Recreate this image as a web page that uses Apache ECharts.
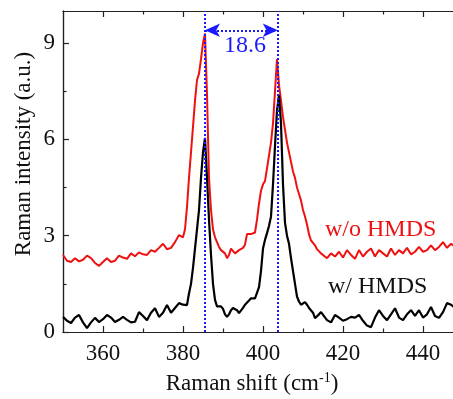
<!DOCTYPE html>
<html>
<head>
<meta charset="utf-8">
<script src="https://cdn.jsdelivr.net/npm/echarts@6/dist/echarts.min.js"></script>
<style>html,body{margin:0;padding:0;background:#fff;}#c{width:453px;height:399px;}</style>
</head>
<body>
<div id="c"></div>
<script>
// Raman shift (cm^-1)
const shift = [
  350,351,352,353,354,355,356,357,358,359,360,361,362,363,364,365,366,367,368,369,
  370,371,372,373,374,375,376,377,378,379,380,
  380.5,381,381.5,382,382.5,383,383.5,384,384.5,385,385.5,
  386,386.5,387,387.5,388,388.5,389,389.5,390,
  390.5,391,391.5,392,392.5,393,393.5,394,394.5,395,
  395.5,396,396.5,397,397.5,398,398.5,399,399.5,400,
  400.5,401,401.5,402,402.5,403,403.5,404,404.5,405,
  405.5,406,406.5,407,407.5,408,408.5,409,409.5,410,
  410.5,411,411.5,412,412.5,413,413.5,414,414.5,415,
  416,417,418,419,420,421,422,423,424,425,426,427,428,429,430,431,432,433,434,435,
  436,437,438,439,440,441,442,443,444,445,446,447,448
];
// w/o HMDS (red)
const woHMDS = [
  2.40,2.22,2.18,2.30,2.20,2.25,2.38,2.30,2.15,2.06,2.18,2.30,2.18,2.22,2.38,2.32,2.28,2.45,2.36,2.48,
  2.42,2.40,2.55,2.50,2.62,2.75,2.58,2.62,2.80,3.02,2.95,
  3.20,3.90,4.80,5.60,6.40,7.20,7.85,8.05,8.50,9.00,9.30,
  7.40,4.80,3.80,3.20,2.95,2.80,2.65,2.55,2.55,
  2.45,2.30,2.40,2.60,2.55,2.45,2.45,2.55,2.50,2.62,
  2.72,3.05,3.08,3.05,3.05,3.10,3.50,4.00,4.40,4.60,
  4.70,5.10,5.50,5.90,6.50,7.50,8.50,7.70,7.20,6.70,
  6.30,5.90,5.60,5.30,5.00,4.80,4.50,4.30,4.10,3.80,
  3.60,3.35,3.05,2.85,2.78,2.70,2.58,2.55,2.45,2.50,
  2.30,2.45,2.35,2.50,2.32,2.55,2.40,2.28,2.55,2.35,2.50,2.60,2.35,2.55,2.45,2.35,2.60,2.40,2.55,2.45,
  2.62,2.42,2.50,2.65,2.50,2.55,2.70,2.55,2.65,2.80,2.62,2.75,2.65
];
// w/ HMDS (black)
const wHMDS = [
  0.47,0.35,0.28,0.45,0.53,0.30,0.12,0.30,0.44,0.31,0.40,0.53,0.45,0.31,0.38,0.47,0.38,0.30,0.32,0.62,
  0.50,0.37,0.60,0.74,0.47,0.60,0.84,0.60,0.75,0.90,0.85,
  0.82,0.84,1.20,1.50,2.00,2.60,3.20,3.80,4.80,5.60,6.05,
  4.80,3.50,2.40,1.50,1.00,0.80,0.78,0.80,0.72,
  0.55,0.47,0.55,0.68,0.75,0.78,0.68,0.59,0.62,0.75,
  0.85,0.90,0.98,1.05,1.08,1.05,1.10,1.40,1.90,2.60,
  2.87,3.08,3.30,3.60,4.60,5.80,6.90,7.38,6.50,4.60,
  3.40,3.00,2.75,2.30,1.90,1.50,1.10,0.95,0.85,0.88,
  0.93,0.85,0.75,0.72,0.60,0.43,0.40,0.55,0.62,0.66,
  0.37,0.30,0.53,0.45,0.35,0.40,0.47,0.45,0.53,0.35,0.20,0.15,0.45,0.68,0.50,0.37,0.55,0.74,0.45,0.37,
  0.55,0.68,0.50,0.68,0.45,0.55,0.78,0.50,0.44,0.62,0.90,0.85,0.75
];
const xMajor = [360, 380, 400, 420, 440];
const xMinor = [370, 390, 410, 430];
const yMajor = [0, 3, 6, 9];
const yMinor = [1.5, 4.5, 7.5];
const peakPositions = [385.5, 403.7];
const peakSplit = "18.6";

const font = 'Liberation Serif';
const axisColor = '#222';
const blue = '#1a1aff';
const XMIN = 350, XMAX = 447.5, YMIN = 0, YMAX = 10;

function xAx(pos, ticks, len, labels) {
  return {
    type: 'value', position: pos, min: XMIN, max: XMAX, gridIndex: 0,
    axisLine: { show: true, onZero: false, lineStyle: { color: axisColor, width: 1.2 } },
    axisTick: { show: true, inside: true, length: len, customValues: ticks, lineStyle: { color: axisColor, width: 1.2 } },
    axisLabel: labels ? { show: true, customValues: ticks, margin: 10, fontFamily: font, fontSize: 23, color: '#111' } : { show: false },
    splitLine: { show: false }
  };
}
function yAx(ticks, len, labels) {
  return {
    type: 'value', position: 'left', min: YMIN, max: YMAX, gridIndex: 0,
    axisLine: { show: true, onZero: false, lineStyle: { color: axisColor, width: 1.2 } },
    axisTick: { show: true, inside: true, length: len, customValues: ticks, lineStyle: { color: axisColor, width: 1.2 } },
    axisLabel: labels ? { show: true, customValues: ticks, margin: 8, fontFamily: font, fontSize: 23, color: '#111' } : { show: false },
    splitLine: { show: false }
  };
}

const chart = echarts.init(document.getElementById('c'), null, { renderer: 'canvas' });
const pairs = (ys) => shift.map((x, i) => [x, ys[i]]);

chart.setOption({
  animation: false,
  backgroundColor: '#fff',
  grid: { left: 63, right: 0, top: 11, bottom: 67 },
  xAxis: [xAx('bottom', xMajor, 6, true), xAx('bottom', xMinor, 3.5, false), xAx('top', xMajor, 6, false), xAx('top', xMinor, 3.5, false)],
  yAxis: [yAx(yMajor, 6, true), yAx(yMinor, 3.5, false)],
  series: [
    {
      name: 'w/o HMDS', type: 'line', data: pairs(woHMDS), showSymbol: false, symbol: 'none',
      lineStyle: { color: '#ee1111', width: 2 }, z: 3
    },
    {
      name: 'w/ HMDS', type: 'line', data: pairs(wHMDS), showSymbol: false, symbol: 'none',
      lineStyle: { color: '#000', width: 2.2 }, z: 4,
      markLine: {
        silent: true, symbol: 'none', label: { show: false },
        lineStyle: { color: blue, width: 2, type: [2, 2] },
        data: peakPositions.map(v => ({ xAxis: v }))
      }
    },
    {
      name: 'split', type: 'line', data: [], z: 5,
      markLine: {
        silent: true, symbol: ['arrow', 'arrow'], symbolSize: [10, 15], label: { show: false },
        lineStyle: { color: blue, width: 2, type: [2, 2] },
        data: [[{ coord: [peakPositions[0], 9.4] }, { coord: [peakPositions[1], 9.4] }]]
      }
    }
  ],
  graphic: [
    { type: 'text', x: 245, y: 46, style: { text: peakSplit, fill: blue, font: '24px "Liberation Serif"', align: 'center', verticalAlign: 'middle' } },
    { type: 'text', x: 325, y: 230, style: { text: 'w/o HMDS', fill: '#ee1111', font: '24px "Liberation Serif"', align: 'left', verticalAlign: 'middle' } },
    { type: 'text', x: 328, y: 287, style: { text: 'w/ HMDS', fill: '#111', font: '24px "Liberation Serif"', align: 'left', verticalAlign: 'middle' } },
    { type: 'text', x: 252, y: 384, style: {
        text: 'Raman shift (cm{sup|-1})', fill: '#111', font: '23px "Liberation Serif"', align: 'center', verticalAlign: 'middle',
        rich: { sup: { fontSize: 14, fontFamily: font, fill: '#111', padding: [0, 0, 12, 0], verticalAlign: 'bottom' } }
    } },
    { type: 'text', x: 24, y: 154, rotation: Math.PI / 2, style: { text: 'Raman intensity (a.u.)', fill: '#111', font: '23px "Liberation Serif"', align: 'center', verticalAlign: 'middle' } }
  ]
});
</script>
</body>
</html>
